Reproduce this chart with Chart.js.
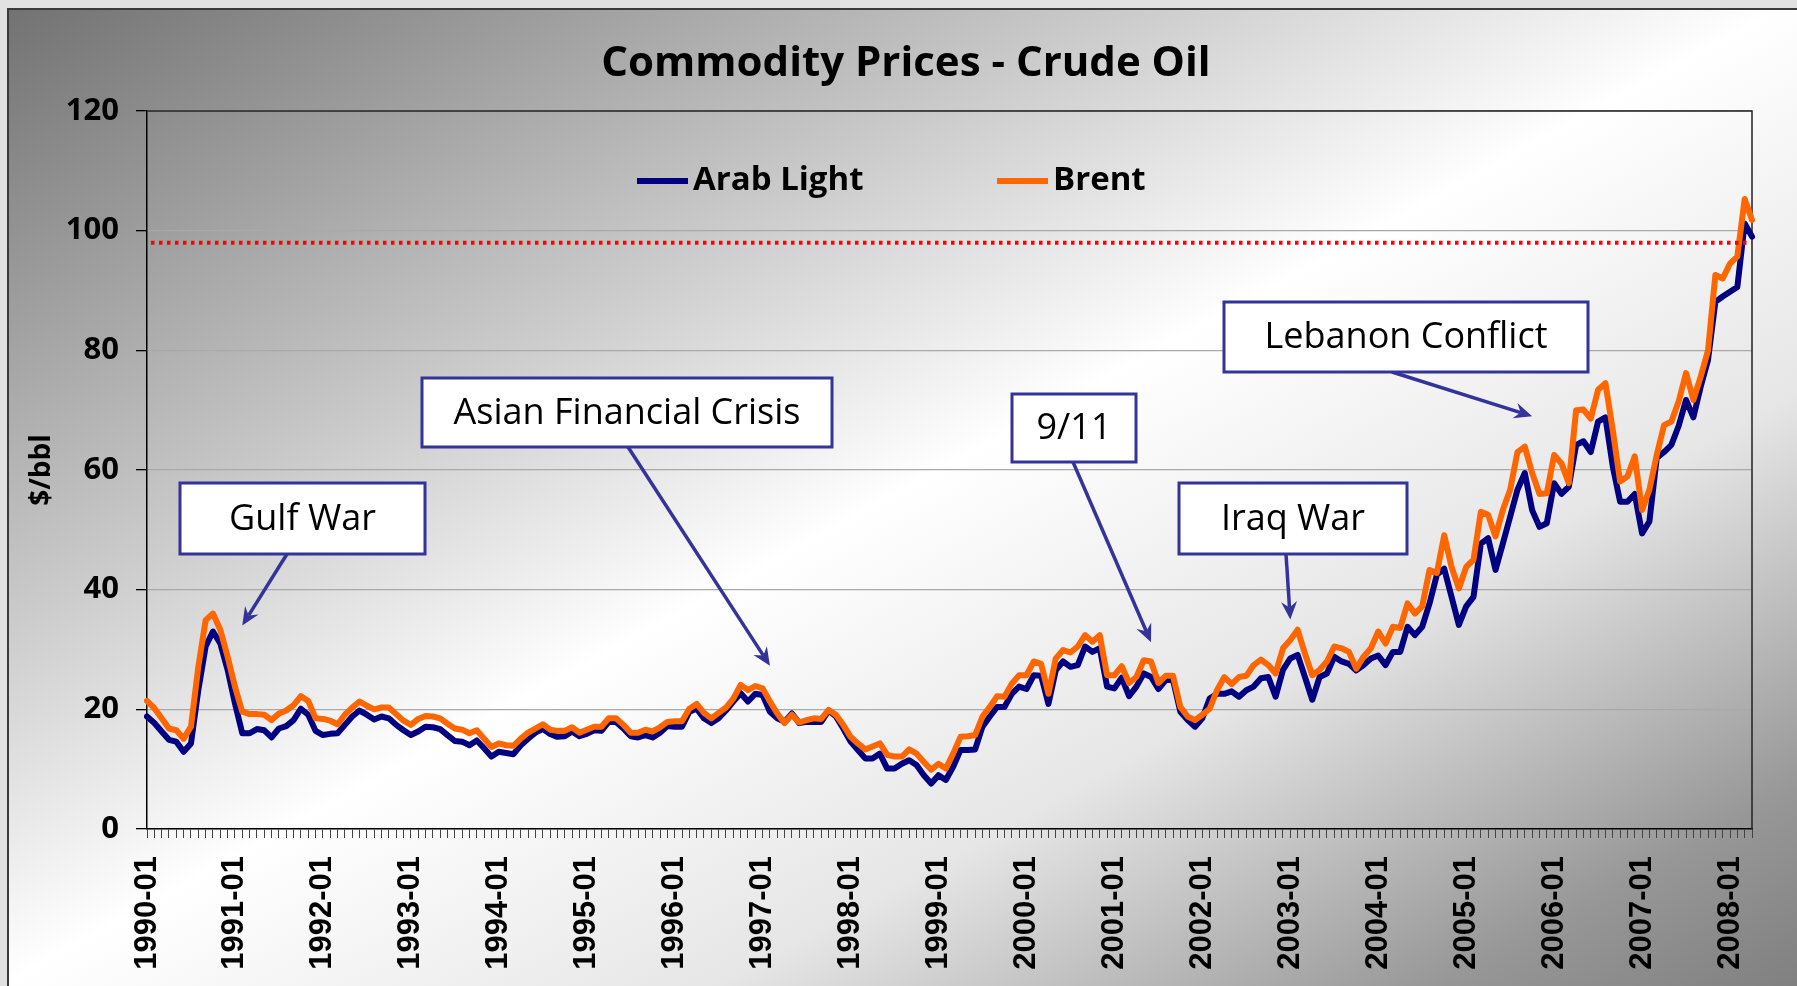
<!DOCTYPE html>
<html>
<head>
<meta charset="utf-8">
<title>Commodity Prices - Crude Oil</title>
<script src="https://cdn.jsdelivr.net/npm/chart.js@4.4.1/dist/chart.umd.min.js"></script>
<style>
    html, body { margin: 0; padding: 0; overflow: hidden; background: #e1e1e1; }
    #wrap { width: 1797px; height: 986px; }
</style>
</head>
<body>
<div id="wrap"><canvas id="oilChart" width="1797" height="986"></canvas></div>
<script>
// Monthly categories, 1990-01 .. 2008-04
const firstYear = 1990;
const lastYear = 2008;
const lastMonth = 4;
const monthLabels = [];
for (let y = firstYear; y <= lastYear; y++) {
    for (let m = 1; m <= 12; m++) {
        if (y === lastYear && m > lastMonth) break;
        monthLabels.push(y + '-' + String(m).padStart(2, '0'));
    }
}

// $/bbl, one row per year
const arabLight = [
    18.8, 17.7, 16.3, 14.9, 14.6, 12.9, 14.3, 23.2, 30.5, 33.0, 31.0, 26.6, // 1990
    21.0, 16.0, 16.0, 16.7, 16.5, 15.3, 16.8, 17.2, 18.2, 20.1, 19.1, 16.4, // 1991
    15.7, 15.9, 16.0, 17.4, 18.8, 19.8, 19.1, 18.3, 18.8, 18.5, 17.4, 16.5, // 1992
    15.7, 16.3, 17.1, 17.0, 16.7, 15.7, 14.7, 14.6, 14.0, 14.8, 13.5, 12.1, // 1993
    12.9, 12.7, 12.5, 14.0, 15.1, 16.1, 16.7, 15.9, 15.4, 15.5, 16.3, 15.5, // 1994
    15.9, 16.5, 16.4, 17.9, 17.9, 16.8, 15.5, 15.3, 15.7, 15.3, 16.1, 17.2, // 1995
    17.1, 17.1, 19.6, 20.1, 18.5, 17.7, 18.5, 19.8, 21.3, 22.7, 21.3, 22.6, // 1996
    22.4, 19.6, 18.5, 17.9, 19.3, 17.7, 17.9, 17.9, 17.9, 19.8, 18.8, 16.8, // 1997
    14.6, 13.2, 11.8, 11.8, 12.6, 10.1, 10.1, 10.9, 11.5, 10.7,  9.0,  7.6, // 1998
     9.0,  8.2, 10.4, 13.2, 13.2, 13.3, 17.1, 18.8, 20.4, 20.4, 22.6, 23.8, // 1999
    23.4, 25.7, 25.6, 20.9, 26.5, 28.0, 27.1, 27.4, 30.5, 29.6, 30.2, 23.8, // 2000
    23.5, 25.3, 22.2, 23.8, 26.0, 25.4, 23.4, 24.9, 24.9, 19.6, 18.2, 17.1, // 2001
    18.5, 21.8, 22.6, 22.6, 23.0, 22.1, 23.2, 23.8, 25.2, 25.4, 22.1, 26.6, // 2002
    28.5, 29.1, 25.4, 21.6, 25.4, 26.0, 28.8, 28.0, 27.6, 26.5, 27.4, 28.5, // 2003
    29.0, 27.4, 29.6, 29.6, 33.8, 32.4, 33.8, 37.7, 42.5, 43.5, 38.8, 34.1, // 2004
    37.2, 38.8, 47.7, 48.6, 43.3, 47.7, 52.2, 56.7, 59.5, 53.3, 50.5, 51.1, // 2005
    57.8, 56.0, 57.2, 64.2, 64.8, 63.0, 68.1, 68.8, 60.6, 54.7, 54.7, 56.0, // 2006
    49.4, 51.4, 62.0, 63.0, 64.2, 67.4, 71.7, 68.8, 73.9, 78.4, 88.1, 89.0, // 2007
    89.8, 90.6, 101.2, 99.0                                                 // 2008
];

const brent = [
    21.4, 20.2, 18.5, 16.8, 16.5, 15.1, 17.1, 27.1, 34.9, 36.0, 33.3, 28.8, // 1990
    23.8, 19.6, 19.2, 19.2, 19.1, 18.2, 19.3, 19.8, 20.7, 22.2, 21.4, 18.5, // 1991
    18.4, 18.1, 17.5, 19.1, 20.3, 21.3, 20.6, 20.0, 20.3, 20.3, 19.2, 18.1, // 1992
    17.4, 18.4, 18.9, 18.8, 18.5, 17.6, 16.8, 16.6, 16.0, 16.5, 15.1, 13.7, // 1993
    14.3, 14.0, 13.9, 15.1, 16.1, 16.8, 17.5, 16.6, 16.4, 16.4, 17.0, 16.1, // 1994
    16.6, 17.1, 17.1, 18.5, 18.5, 17.4, 16.1, 16.1, 16.6, 16.3, 17.0, 17.9, // 1995
    18.0, 18.0, 20.1, 20.9, 19.4, 18.5, 19.4, 20.3, 21.8, 24.1, 23.2, 23.9, // 1996
    23.5, 21.3, 19.3, 17.7, 19.1, 17.8, 18.2, 18.5, 18.4, 19.9, 19.1, 17.4, // 1997
    15.4, 14.3, 13.3, 13.8, 14.3, 12.4, 12.1, 12.1, 13.3, 12.6, 11.2,  9.9, // 1998
    10.9, 10.1, 12.6, 15.4, 15.5, 15.7, 18.8, 20.4, 22.2, 22.1, 24.3, 25.7, // 1999
    25.7, 28.0, 27.6, 22.6, 28.5, 29.9, 29.5, 30.5, 32.4, 31.3, 32.4, 25.7, // 2000
    25.7, 27.2, 24.4, 25.4, 28.2, 28.0, 24.4, 25.6, 25.6, 20.4, 18.8, 18.2, // 2001
    19.1, 20.1, 23.2, 25.4, 24.2, 25.4, 25.6, 27.4, 28.3, 27.4, 26.0, 30.2, // 2002
    31.6, 33.3, 29.3, 25.7, 26.6, 28.0, 30.5, 30.2, 29.6, 26.8, 28.8, 30.2, // 2003
    33.0, 31.0, 33.8, 33.6, 37.7, 36.0, 37.2, 43.3, 42.8, 49.1, 43.8, 40.2, // 2004
    43.8, 45.0, 53.0, 52.5, 48.9, 53.3, 56.7, 63.0, 63.9, 59.5, 56.0, 56.1, // 2005
    62.5, 61.1, 57.8, 70.0, 70.1, 68.6, 73.4, 74.5, 66.7, 58.1, 58.9, 62.3, // 2006
    53.3, 56.7, 62.5, 67.5, 68.1, 71.5, 76.2, 71.7, 75.6, 80.0, 92.6, 92.0, // 2007
    94.5, 95.7, 105.3, 101.8                                                // 2008
];

// dotted reference level
const refPrice = 98;

// events: box text, box rect [x0, y0, x1, y1] in px, arrow start x on box bottom,
// and the point the arrow aims at (month label, $/bbl)
const events = [
    { text: 'Gulf War',               box: [180, 483, 425, 554],   fromX: 287,  tip: ['1991-02', 34.0] },
    { text: 'Asian Financial Crisis', box: [422, 378, 832, 447],   fromX: 628,  tip: ['1997-02', 27.3] },
    { text: '9/11',                   box: [1012, 394, 1136, 462], fromX: 1073, tip: ['2001-06', 31.2] },
    { text: 'Iraq War',               box: [1179, 483, 1407, 554], fromX: 1286, tip: ['2003-01', 35.0] },
    { text: 'Lebanon Conflict',       box: [1224, 302, 1588, 372], fromX: 1392, tip: ['2005-10', 69.0] }
];

const uiFont = "'Open Sans', 'Noto Sans', 'DejaVu Sans', sans-serif";
const seriesColors = { arab: '#000080', brent: '#ff6600' };
const calloutColor = '#333399';

// Gray-white-gray diagonal background with the frame line
const backgroundPlugin = {
    id: 'background',
    beforeDraw(chart) {
        const ctx = chart.ctx;
        const w = chart.width, h = chart.height;
        ctx.save();
        ctx.fillStyle = '#e1e1e1';
        ctx.fillRect(0, 0, w, h);
        const g = ctx.createLinearGradient(482, -265, 1314, 1251);
        g.addColorStop(0, '#707070');
        g.addColorStop(0.5, '#ffffff');
        g.addColorStop(0.7, '#e6e6e6');
        g.addColorStop(0.9, '#979797');
        g.addColorStop(1, '#808080');
        ctx.fillStyle = g;
        ctx.fillRect(8, 9, w, h);
        ctx.strokeStyle = '#3a3a3a';
        ctx.lineWidth = 2;
        ctx.beginPath();
        ctx.moveTo(8, h);
        ctx.lineTo(8, 9);
        ctx.lineTo(w, 9);
        ctx.stroke();

        // title
        ctx.fillStyle = '#000';
        ctx.font = 'bold 42px ' + uiFont;
        ctx.textAlign = 'center';
        ctx.textBaseline = 'middle';
        ctx.fillText('Commodity Prices - Crude Oil', 906, 64);
        ctx.restore();
    },
    beforeDatasetsDraw(chart) {
        // top and right border of the plot area
        const { ctx, chartArea } = chart;
        ctx.save();
        ctx.strokeStyle = '#222';
        ctx.lineWidth = 1.5;
        ctx.beginPath();
        ctx.moveTo(chartArea.left, chartArea.top);
        ctx.lineTo(chartArea.right, chartArea.top);
        ctx.lineTo(chartArea.right, chartArea.bottom);
        ctx.stroke();
        ctx.restore();
    }
};

function drawArrow(ctx, x0, y0, x1, y1) {
    const ang = Math.atan2(y1 - y0, x1 - x0);
    const headLen = 18, headHalf = 8, notch = 12;
    const cos = Math.cos(ang), sin = Math.sin(ang);
    const bx = x1 - headLen * cos, by = y1 - headLen * sin;
    ctx.beginPath();
    ctx.moveTo(x0, y0);
    ctx.lineTo(x1 - notch * cos, y1 - notch * sin);
    ctx.stroke();
    ctx.beginPath();
    ctx.moveTo(x1, y1);
    ctx.lineTo(bx + headHalf * sin, by - headHalf * cos);
    ctx.lineTo(x1 - notch * cos, y1 - notch * sin);
    ctx.lineTo(bx - headHalf * sin, by + headHalf * cos);
    ctx.closePath();
    ctx.fill();
}

// Reference line, legend and event call-outs
const overlayPlugin = {
    id: 'overlay',
    afterDatasetsDraw(chart) {
        const { ctx, chartArea } = chart;
        const xs = chart.scales.x, ys = chart.scales.y;
        ctx.save();

        // red dotted level
        const ry = ys.getPixelForValue(refPrice);
        ctx.strokeStyle = '#ff0000';
        ctx.lineWidth = 4;
        ctx.setLineDash([3.5, 4.5]);
        ctx.beginPath();
        ctx.moveTo(chartArea.left + 4, ry);
        ctx.lineTo(chartArea.right, ry);
        ctx.stroke();
        ctx.setLineDash([]);

        // legend inside the plot
        const legendY = 181;
        const starts = [637, 997];
        chart.data.datasets.forEach((ds, i) => {
            const x = starts[i];
            ctx.strokeStyle = ds.borderColor;
            ctx.lineWidth = 6;
            ctx.beginPath();
            ctx.moveTo(x, legendY);
            ctx.lineTo(x + 51, legendY);
            ctx.stroke();
            ctx.fillStyle = '#000';
            ctx.font = 'bold 33px ' + uiFont;
            ctx.textAlign = 'left';
            ctx.textBaseline = 'middle';
            ctx.fillText(ds.label, x + 56, legendY);
        });

        // call-outs
        events.forEach(ev => {
            const [x0, y0, x1, y1] = ev.box;
            const tx = xs.getPixelForValue(monthLabels.indexOf(ev.tip[0]));
            const ty = ys.getPixelForValue(ev.tip[1]);
            ctx.strokeStyle = calloutColor;
            ctx.fillStyle = calloutColor;
            ctx.lineWidth = 3.5;
            drawArrow(ctx, ev.fromX, y1, tx, ty);

            ctx.fillStyle = '#ffffff';
            ctx.fillRect(x0, y0, x1 - x0, y1 - y0);
            ctx.lineWidth = 3;
            ctx.strokeRect(x0, y0, x1 - x0, y1 - y0);
            ctx.fillStyle = '#000';
            ctx.font = '36px ' + uiFont;
            ctx.textAlign = 'center';
            ctx.textBaseline = 'middle';
            ctx.fillText(ev.text, (x0 + x1) / 2, (y0 + y1) / 2 + 1);
        });
        ctx.restore();
    }
};

new Chart(document.getElementById('oilChart'), {
    type: 'line',
    data: {
        labels: monthLabels,
        datasets: [
            {
                label: 'Arab Light',
                data: arabLight,
                borderColor: seriesColors.arab,
                backgroundColor: seriesColors.arab,
                borderWidth: 6,
                pointRadius: 0,
                tension: 0,
                borderJoinStyle: 'round',
                borderCapStyle: 'round',
                order: 2
            },
            {
                label: 'Brent',
                data: brent,
                borderColor: seriesColors.brent,
                backgroundColor: seriesColors.brent,
                borderWidth: 6,
                pointRadius: 0,
                tension: 0,
                borderJoinStyle: 'round',
                borderCapStyle: 'round',
                order: 1
            }
        ]
    },
    options: {
        responsive: false,
        animation: false,
        devicePixelRatio: 1,
        events: [],
        layout: { padding: { top: 111, right: 45, bottom: 0, left: 0 } },
        plugins: {
            legend: { display: false },
            title: { display: false },
            tooltip: { enabled: false }
        },
        scales: {
            x: {
                offset: false,
                grid: { drawOnChartArea: false, drawTicks: true, tickLength: 9, color: '#444', lineWidth: 1 },
                border: { display: true, color: '#000', width: 1.5 },
                ticks: {
                    autoSkip: false,
                    minRotation: 90,
                    maxRotation: 90,
                    padding: 18,
                    color: '#000',
                    font: { family: "'Liberation Sans', Arial, sans-serif", size: 31, weight: 'bold' },
                    callback: function(value) {
                        const l = this.getLabelForValue(value);
                        return l.endsWith('-01') ? l : '';
                    }
                },
                afterFit(scale) {
                    scale.height = 157;
                    // let layout.padding alone decide the side insets
                    scale.paddingLeft = 0;
                    scale.paddingRight = 0;
                }
            },
            y: {
                min: 0,
                max: 120,
                ticks: {
                    stepSize: 20,
                    padding: 17,
                    color: '#000',
                    font: { family: uiFont, size: 31, weight: 'bold' }
                },
                grid: { color: '#a9a9a9', lineWidth: 1.3, tickColor: '#000', tickLength: 11 },
                border: { display: true, color: '#000', width: 1.5 },
                title: {
                    display: true,
                    text: '$/bbl',
                    color: '#000',
                    font: { family: uiFont, size: 28, weight: 'bold' },
                    padding: { top: 25, bottom: 0 }
                },
                afterFit(scale) { scale.width = 147; }
            }
        }
    },
    plugins: [backgroundPlugin, overlayPlugin]
});
</script>
</body>
</html>
